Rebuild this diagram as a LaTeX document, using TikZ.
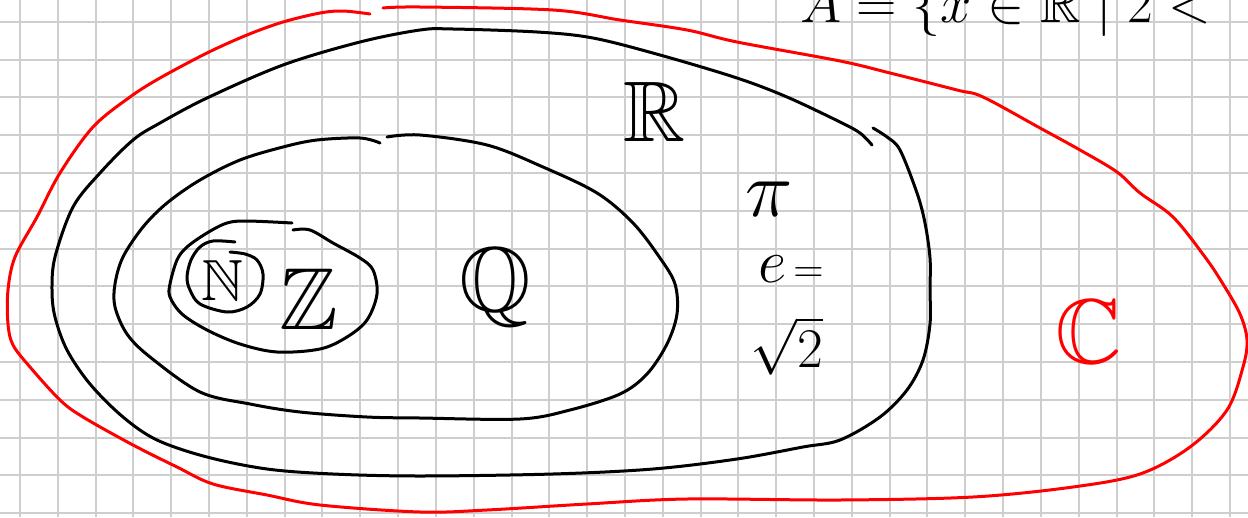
\RequirePackage{fix-cm}
\documentclass[tikz,border=0pt]{standalone}
\usepackage{amsmath}
\usepackage{amssymb}
\usetikzlibrary{positioning}
\definecolor{penred}{RGB}{255,0,0}
\definecolor{gridgray}{RGB}{206,206,206}
\tikzset{
  gridline/.style={gridgray, line width=2pt},
  penline/.style={black, line width=3pt, line cap=round, line join=round},
  redline/.style={penred, line width=3pt, line cap=round, line join=round},
  setlabel/.style={inner sep=0pt, font=\fontsize{#1}{#1}\selectfont},
}
\begin{document}
\begin{tikzpicture}[x=1pt, y=-1pt]
  \useasboundingbox (0,0) rectangle (1248,517);
  \fill[white] (0,0) rectangle (1248,517);
  % Squared paper
  \foreach \i in {0,...,32}
    \draw[gridline] (20+37.81*\i,0) -- ++(0,517);
  \foreach \j in {0,...,13}
    \draw[gridline] (0,21.7+37.8*\j) -- ++(1248,0);
  % Complex numbers (red)
  \draw[redline] plot[smooth, tension=0.55] coordinates {
    (383,8) (420,7) (553,10) (620,20) (687,30) (737,42) (840,61) (890,73)
    (957,90) (983,97) (1040,128) (1080,150) (1117,172) (1140,193) (1173,217)
    (1205,257) (1223,284) (1240,314) (1247,340) (1243,367) (1227,410)
    (1190,447) (1140,474) (1073,487) (973,497) (840,500) (687,499) (587,504)
    (487,510) (420,512) (320,505) (267,495) (213,484) (177,467) (133,445)
    (83,417) (60,400) (30,367) (13,345) (8,324) (8,290) (15,257) (37,217)
    (60,173) (93,127) (130,97) (160,78) (207,53) (247,35) (283,22) (320,13)
    (343,11) (370,14)};
  % Real numbers
  \draw[penline] plot[smooth, tension=0.55] coordinates {
    (873,128) (887,137) (900,150) (917,193) (925,223) (930,258) (930,290)
    (930,324) (923,360) (907,390) (880,417) (840,440) (803,447) (737,459)
    (653,469) (553,474) (420,476) (333,474) (267,469) (207,457) (157,440)
    (123,417) (90,384) (67,350) (55,317) (52,290) (55,257) (73,207) (100,173)
    (133,140) (160,123) (207,98) (283,65) (360,42) (420,30) (453,29) (537,32)
    (593,38) (660,55) (737,78) (787,97) (840,122) (860,133) (872,145)};
  % Rational numbers
  \draw[penline] plot[smooth, tension=0.55] coordinates {
    (387,137) (420,135) (487,145) (543,167) (597,193) (633,223) (660,258)
    (675,284) (677,314) (667,344) (647,374) (620,394) (570,410) (520,419)
    (420,418) (367,417) (300,412) (250,404) (200,392) (150,357)
    (127,334) (115,307) (115,284) (123,257) (143,227) (167,203) (200,180)
    (240,160) (283,147) (317,140) (360,138) (380,143)};
  % Integers
  \draw[penline] plot[smooth, tension=0.55] coordinates {
    (293,230) (310,230) (333,243) (360,258) (373,270) (377,294) (367,320)
    (347,337) (320,349) (277,352) (240,344) (207,330) (182,314) (170,297)
    (170,284) (177,260) (187,247) (207,233) (227,223) (247,221) (292,223)};
  % Natural numbers
  \draw[penline] plot[smooth, tension=0.55] coordinates {
    (230,252) (245,254) (257,260) (263,274) (260,294) (247,307) (227,312)
    (200,304) (190,290) (187,277) (191,260) (200,247) (213,241) (235,242)};
  % Labels
  \node[setlabel=58] (nat) at (222,281) {$\mathbb{N}$};
  \node[setlabel=88] (int) at (309,299) {$\mathbb{Z}$};
  \node[setlabel=92] (rat) at (495,287) {$\mathbb{Q}$};
  \node[setlabel=86] (real) at (655,112) {$\mathbb{R}$};
  \node[setlabel=92, penred] (cplx) at (1089,332) {$\mathbb{C}$};
  \node[setlabel=80] (pi) at (769,199) {$\pi$};
  \node[setlabel=62] (euler) at (791,269)
    {$e$\hspace{7pt}{\fontsize{42}{42}\selectfont$=$}};
  \node[setlabel=56] (root) at (787,346) {$\sqrt{2}$};
  % Set definition at the top edge
  \node[setlabel=56, anchor=base west] (setA) at (800,22)
    {$A=\{x\in\mathbb{R}\mid 2<$};
\end{tikzpicture}
\end{document}
